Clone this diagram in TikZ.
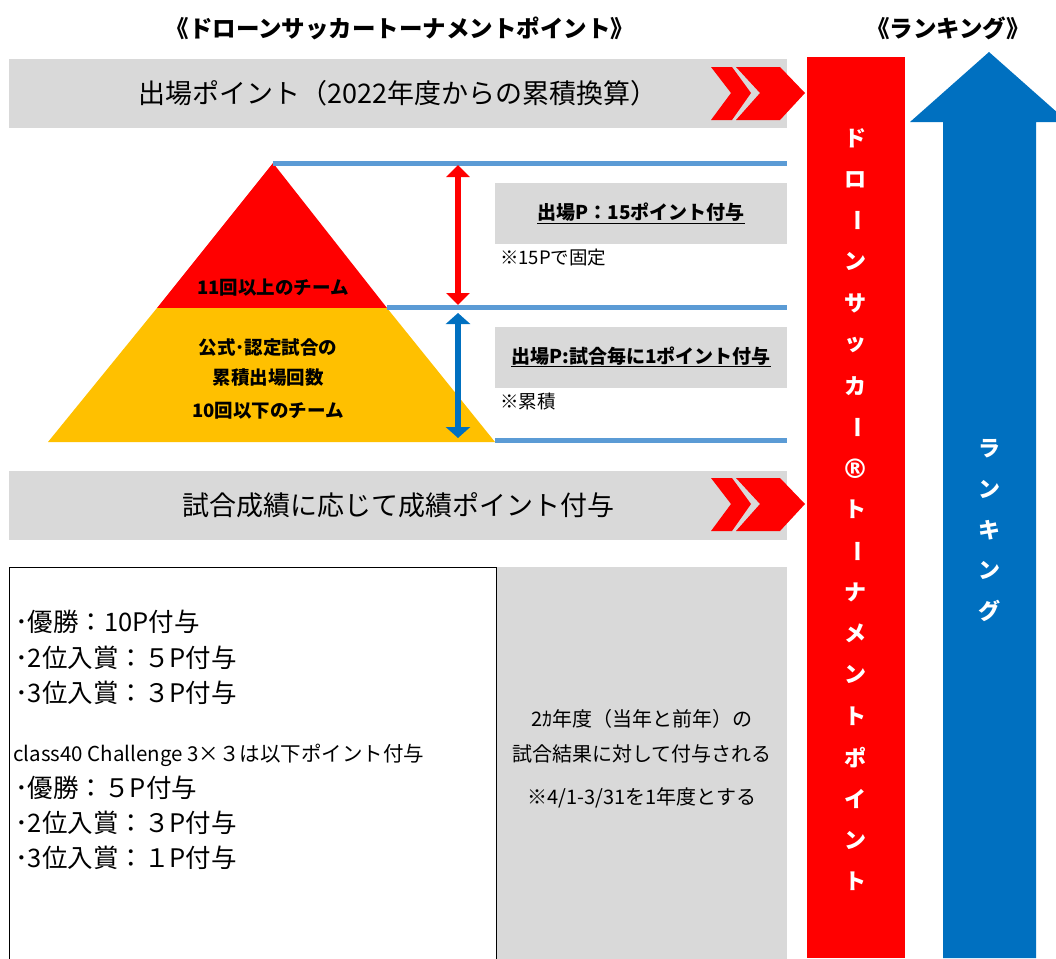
\documentclass[tikz,border=0pt]{standalone}
\usepackage{fontspec}
\setmainfont{Noto Sans CJK JP}
\newfontfamily\regfont{DejaVu Sans}
\usetikzlibrary{positioning,arrows.meta}
\definecolor{ptred}{HTML}{FF0000}
\definecolor{ptyel}{HTML}{FFC000}
\definecolor{barg}{HTML}{D9D9D9}
\definecolor{rankblue}{HTML}{0070C0}
\definecolor{lvlblue}{HTML}{5B9BD5}
\newcommand{\fsz}[1]{\fontsize{#1}{#1}\selectfont}
\newcommand{\regmark}{{\regfont\itshape\fsz{27}®}}
\tikzset{
  greybar/.style={fill=barg,inner sep=0pt,minimum width=778pt,minimum height=69pt,font=\fsz{27}},
  infobox/.style={fill=barg,inner sep=0pt,minimum width=292pt,minimum height=61pt,font=\bfseries\fsz{19}},
  note/.style={anchor=north west,inner sep=0pt,font=\fsz{18.5}},
  lvl/.style={lvlblue,line width=5pt},
  pyr/.style={font=\bfseries\fsz{18.5},inner sep=0pt},
  vchar/.style={white,font=\bfseries\fsz{22},inner sep=0pt},
  prize/.style={anchor=west,inner sep=0pt,font=\fsz{25.5}},
  spantxt/.style={font=\fsz{20},inner sep=0pt}
}
\begin{document}
\begin{tikzpicture}[x=1pt,y=-1pt]
\useasboundingbox (0,0) rectangle (1056,958);
\node[font=\bfseries\fsz{23.5}] (ttlpt) at (400,28) {《ドローンサッカートーナメントポイント》};
\node[font=\bfseries\fsz{23.5}] (ttlrk) at (948,28) {《ランキング》};

\node[greybar] (bar1) at (398,93.5) {出場ポイント（2022年度からの累積換算）};
\node[greybar] (bar2) at (398,505) {試合成績に応じて成績ポイント付与};
\foreach \yc in {93,504} {
  \fill[ptred] (711,\yc-26) -- (732,\yc-26) -- (751,\yc) -- (732,\yc+27) -- (711,\yc+27) -- (731,\yc) -- cycle;
  \fill[ptred] (736,\yc-26) -- (780,\yc-26) -- (805,\yc) -- (780,\yc+27) -- (736,\yc+27) -- (760,\yc) -- cycle;
}

\node[fill=ptred,inner sep=0pt,minimum width=98pt,minimum height=901pt,anchor=north west] (dstp) at (807,57) {};
\foreach \ch/\r [count=\i from 0] in {ド/0,ロ/0,ー/-90,ン/0,サ/0,ッ/0,カ/0,ー/-90,\regmark/0,ト/0,ー/-90,ナ/0,メ/0,ン/0,ト/0,ポ/0,イ/0,ン/0,ト/0}
  \node[vchar,rotate=\r] (dc\i) at (855,138+41.3*\i) {\ch};

\fill[rankblue] (943,958) -- (943,122) -- (910,122) -- (989,52) -- (1068,122) -- (1036,122) -- (1036,958) -- cycle;
\foreach \ch [count=\i from 0] in {ラ,ン,キ,ン,グ}
  \node[vchar] (rk\i) at (989,449+40.5*\i) {\ch};

\coordinate (apex) at (273,163);
\coordinate (midl) at (157,308);
\coordinate (midr) at (387,308);
\fill[ptred] (apex) -- (midl) -- (midr) -- cycle;
\fill[ptyel] (midl) -- (48,442) -- (495,442) -- (midr) -- cycle;
\node[pyr] (top11) at (273,288) {11回以上のチーム};
\node[pyr] (low1) at (268,347) {公式･認定試合の};
\node[pyr] (low2) at (268,378) {累積出場回数};
\node[pyr] (low3) at (268,411) {10回以下のチーム};

\coordinate (lvtop) at (787,163);
\coordinate (lvmid) at (787,307);
\coordinate (lvbot) at (787,440);
\draw[lvl] (apex) -- (lvtop);
\draw[lvl] (387,307) -- (lvmid);
\draw[lvl] (495,440) -- (lvbot);

\coordinate (ra) at (458,165);
\coordinate (rb) at (458,305);
\coordinate (ba) at (458,313);
\coordinate (bb) at (458,438);
\draw[ptred,line width=6pt,{Triangle[width=23pt,length=12pt]}-{Triangle[width=23pt,length=12pt]}] (ra) -- (rb);
\draw[rankblue,line width=6pt,{Triangle[width=24pt,length=11pt]}-{Triangle[width=24pt,length=11pt]}] (ba) -- (bb);

\node[infobox] (p15) at (641,213.5) {\underline{出場P：15ポイント付与}};
\node[note] (p15n) at ([xshift=5pt,yshift=-5pt]p15.south west) {※15Pで固定};
\node[infobox] (p1) at (641,357) {\underline{出場P:試合毎に1ポイント付与}};
\node[note] (p1n) at ([xshift=5pt,yshift=-5pt]p1.south west) {※累積};

\node[fill=barg,inner sep=0pt,minimum width=291pt,minimum height=400pt,anchor=north west] (span) at (496,567) {};
\node[spantxt] (sp1) at (642,719) {2ｶ年度（当年と前年）の};
\node[spantxt] (sp2) at (642,754) {試合結果に対して付与される};
\node[spantxt] (sp3) at (642,798) {※4/1-3/31を1年度とする};

\node[draw=black,line width=0.8pt,inner sep=0pt,minimum width=487pt,minimum height=400pt,anchor=north west] (award) at (9,567) {};
\foreach \t/\yy [count=\i] in {･優勝：10P付与/622,･2位入賞：５P付与/658,･3位入賞：３P付与/693,･優勝：５P付与/788,･2位入賞：３P付与/823,･3位入賞：１P付与/858}
  \node[prize] (pz\i) at (15,\yy) {\t};
\node[prize,font=\fsz{20.5}] (cls40) at (13,755) {class40 Challenge 3×３は以下ポイント付与};
\end{tikzpicture}
\end{document}
